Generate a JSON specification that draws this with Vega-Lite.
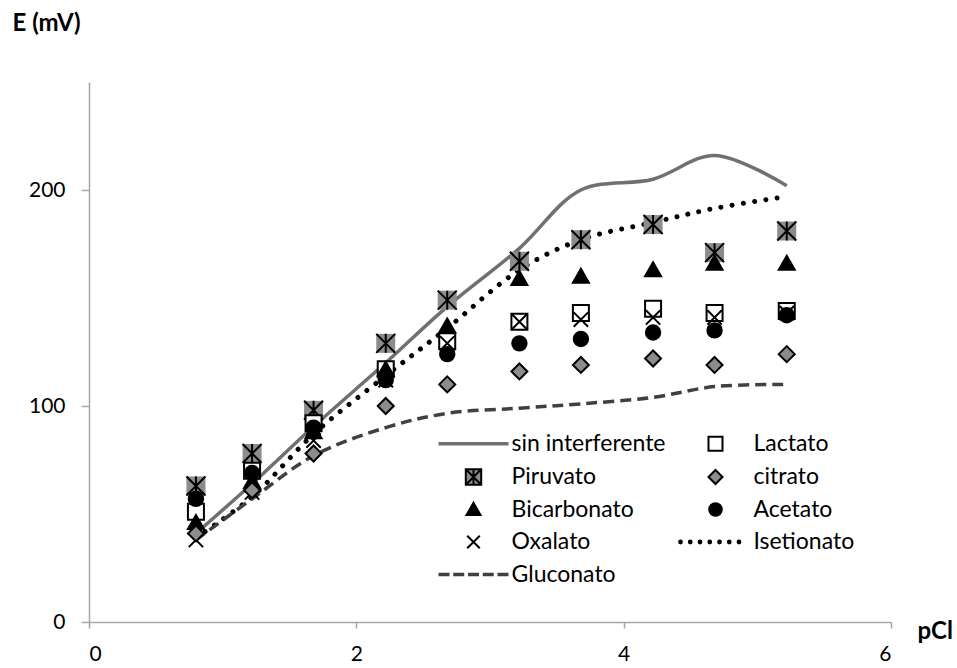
{
  "$schema": "https://vega.github.io/schema/vega-lite/v6.json",
  "width": 802,
  "height": 540,
  "autosize": {"type": "none"},
  "padding": {"left": 89, "top": 82, "right": 66, "bottom": 46},
  "background": "white",
  "config": {
    "view": {"stroke": null},
    "font": "Lato",
    "axis": {"grid": false, "domainColor": "#a6a6a6", "domainWidth": 1.5, "tickColor": "#a6a6a6", "tickWidth": 1.5, "labelFont": "Lato", "labelFontSize": 21, "labelColor": "black", "titleFont": "Lato", "titleFontSize": 24, "titleFontWeight": "bold", "titleColor": "black"},
    "legend": {
      "orient": "none", "legendX": 373, "legendY": 350, "columns": 2, "direction": "horizontal",
      "padding": 0, "labelFont": "Lato", "labelFontSize": 23, "labelColor": "black",
      "symbolSize": 196, "labelOffset": 26.5, "rowPadding": 8.5, "columnPadding": 9, "symbolStrokeWidth": 2,
      "symbolOpacity": 1
    }
  },
  "data": {
    "values": [
      {"x": 0.8, "serie": "sin interferente", "y": 41},
      {"x": 1.22, "serie": "sin interferente", "y": 64},
      {"x": 1.68, "serie": "sin interferente", "y": 90.5},
      {"x": 2.22, "serie": "sin interferente", "y": 120},
      {"x": 2.68, "serie": "sin interferente", "y": 146},
      {"x": 3.22, "serie": "sin interferente", "y": 173},
      {"x": 3.68, "serie": "sin interferente", "y": 200},
      {"x": 4.22, "serie": "sin interferente", "y": 205},
      {"x": 4.68, "serie": "sin interferente", "y": 216},
      {"x": 5.22, "serie": "sin interferente", "y": 202},
      {"x": 0.8, "serie": "Isetionato", "y": 39},
      {"x": 1.22, "serie": "Isetionato", "y": 58},
      {"x": 1.68, "serie": "Isetionato", "y": 87},
      {"x": 2.22, "serie": "Isetionato", "y": 114},
      {"x": 2.68, "serie": "Isetionato", "y": 136},
      {"x": 3.22, "serie": "Isetionato", "y": 163},
      {"x": 3.68, "serie": "Isetionato", "y": 177},
      {"x": 4.22, "serie": "Isetionato", "y": 185},
      {"x": 4.68, "serie": "Isetionato", "y": 191.5},
      {"x": 5.22, "serie": "Isetionato", "y": 197},
      {"x": 0.8, "serie": "Gluconato", "y": 38},
      {"x": 1.22, "serie": "Gluconato", "y": 57},
      {"x": 1.68, "serie": "Gluconato", "y": 77},
      {"x": 2.22, "serie": "Gluconato", "y": 90},
      {"x": 2.68, "serie": "Gluconato", "y": 96.6},
      {"x": 3.22, "serie": "Gluconato", "y": 99},
      {"x": 3.68, "serie": "Gluconato", "y": 101},
      {"x": 4.22, "serie": "Gluconato", "y": 104},
      {"x": 4.68, "serie": "Gluconato", "y": 109},
      {"x": 5.22, "serie": "Gluconato", "y": 110},
      {"x": 0.8, "serie": "Piruvato", "y": 63},
      {"x": 1.22, "serie": "Piruvato", "y": 78},
      {"x": 1.68, "serie": "Piruvato", "y": 98},
      {"x": 2.22, "serie": "Piruvato", "y": 129},
      {"x": 2.68, "serie": "Piruvato", "y": 149},
      {"x": 3.22, "serie": "Piruvato", "y": 167},
      {"x": 3.68, "serie": "Piruvato", "y": 177},
      {"x": 4.22, "serie": "Piruvato", "y": 184},
      {"x": 4.68, "serie": "Piruvato", "y": 171},
      {"x": 5.22, "serie": "Piruvato", "y": 181},
      {"x": 0.8, "serie": "Lactato", "y": 51},
      {"x": 1.22, "serie": "Lactato", "y": 70},
      {"x": 1.68, "serie": "Lactato", "y": 92},
      {"x": 2.22, "serie": "Lactato", "y": 117},
      {"x": 2.68, "serie": "Lactato", "y": 130},
      {"x": 3.22, "serie": "Lactato", "y": 139},
      {"x": 3.68, "serie": "Lactato", "y": 143},
      {"x": 4.22, "serie": "Lactato", "y": 145},
      {"x": 4.68, "serie": "Lactato", "y": 143},
      {"x": 5.22, "serie": "Lactato", "y": 144},
      {"x": 0.8, "serie": "Bicarbonato", "y": 46},
      {"x": 1.22, "serie": "Bicarbonato", "y": 65},
      {"x": 1.68, "serie": "Bicarbonato", "y": 88},
      {"x": 2.22, "serie": "Bicarbonato", "y": 117},
      {"x": 2.68, "serie": "Bicarbonato", "y": 137},
      {"x": 3.22, "serie": "Bicarbonato", "y": 159},
      {"x": 3.68, "serie": "Bicarbonato", "y": 160},
      {"x": 4.22, "serie": "Bicarbonato", "y": 163},
      {"x": 4.68, "serie": "Bicarbonato", "y": 166},
      {"x": 5.22, "serie": "Bicarbonato", "y": 166},
      {"x": 0.8, "serie": "Acetato", "y": 57},
      {"x": 1.22, "serie": "Acetato", "y": 69},
      {"x": 1.68, "serie": "Acetato", "y": 90},
      {"x": 2.22, "serie": "Acetato", "y": 112},
      {"x": 2.68, "serie": "Acetato", "y": 124},
      {"x": 3.22, "serie": "Acetato", "y": 129},
      {"x": 3.68, "serie": "Acetato", "y": 131},
      {"x": 4.22, "serie": "Acetato", "y": 134},
      {"x": 4.68, "serie": "Acetato", "y": 135},
      {"x": 5.22, "serie": "Acetato", "y": 142},
      {"x": 0.8, "serie": "Oxalato", "y": 38},
      {"x": 1.22, "serie": "Oxalato", "y": 60},
      {"x": 1.68, "serie": "Oxalato", "y": 84},
      {"x": 2.22, "serie": "Oxalato", "y": 112},
      {"x": 2.68, "serie": "Oxalato", "y": 129},
      {"x": 3.22, "serie": "Oxalato", "y": 139},
      {"x": 3.68, "serie": "Oxalato", "y": 140},
      {"x": 4.22, "serie": "Oxalato", "y": 141},
      {"x": 4.68, "serie": "Oxalato", "y": 141},
      {"x": 5.22, "serie": "Oxalato", "y": 143},
      {"x": 0.8, "serie": "citrato", "y": 41},
      {"x": 1.22, "serie": "citrato", "y": 61},
      {"x": 1.68, "serie": "citrato", "y": 78},
      {"x": 2.22, "serie": "citrato", "y": 100},
      {"x": 2.68, "serie": "citrato", "y": 110},
      {"x": 3.22, "serie": "citrato", "y": 116},
      {"x": 3.68, "serie": "citrato", "y": 119},
      {"x": 4.22, "serie": "citrato", "y": 122},
      {"x": 4.68, "serie": "citrato", "y": 119},
      {"x": 5.22, "serie": "citrato", "y": 124}
    ]
  },
  "encoding": {
    "x": {"field": "x", "type": "quantitative", "scale": {"domain": [0, 6], "nice": false, "zero": false},
      "axis": {"values": [0, 2, 4, 6], "tickSize": 6, "labelPadding": 15, "title": "pCl", "titleX": 828, "titleY": 9, "titleAlign": "left", "titleBaseline": "middle", "titleAnchor": null}},
    "y": {"field": "y", "type": "quantitative", "scale": {"domain": [0, 250], "nice": false},
      "axis": {"values": [0, 100, 200], "tickSize": 8, "labelPadding": 16, "title": "E (mV)", "titleAngle": 0, "titleX": -77, "titleY": -59, "titleAlign": "left", "titleBaseline": "middle", "titleAnchor": null}}
  },
  "layer": [
    {
      "transform": [{"filter": "datum.serie === 'sin interferente'"}],
      "mark": {"type": "line", "color": "#707070", "strokeWidth": 3.5, "interpolate": "catmull-rom"}
    },
    {
      "transform": [{"filter": "datum.serie === 'Isetionato'"}],
      "mark": {"type": "line", "color": "black", "strokeWidth": 5, "strokeDash": [0.01, 11.3], "strokeCap": "round", "interpolate": "catmull-rom"}
    },
    {
      "transform": [{"filter": "datum.serie === 'Gluconato'"}],
      "mark": {"type": "line", "color": "#404040", "strokeWidth": 3.5, "strokeDash": [11, 6], "interpolate": "catmull-rom"}
    },
    {
      "transform": [{"filter": "datum.serie === 'Piruvato'"}],
      "mark": {"type": "point", "shape": "square", "size": 361, "filled": true, "fill": "#8c8c8c", "strokeWidth": 0, "opacity": 1}
    },
    {
      "transform": [{"filter": "datum.serie === 'Piruvato'"}],
      "mark": {"type": "point", "shape": "M-1,-1L1,1M1,-1L-1,1M0,-1V1", "size": 361, "filled": false, "stroke": "black", "strokeWidth": 2, "opacity": 1}
    },
    {
      "transform": [{"filter": "datum.serie !== 'Piruvato' && datum.serie !== 'sin interferente' && datum.serie !== 'Isetionato' && datum.serie !== 'Gluconato'"}],
      "mark": {"type": "point", "size": 256, "strokeWidth": 2, "opacity": 1},
      "encoding": {
        "shape": {"field": "serie", "type": "nominal", "title": null,
          "scale": {
            "domain": ["sin interferente", "Lactato", "Piruvato", "citrato", "Bicarbonato", "Acetato", "Oxalato", "Isetionato", "Gluconato"],
            "range": [
              "M-5,0M5,0M-4.857,-0.1H4.857V0.1H-4.857Z",
              "M-5,0M5,0M-1,-1H1V1H-1Z",
              "M-5,0M5,0M-1.1,-1.1H1.1V1.1H-1.1ZM-1.1,-1.1L1.1,1.1M1.1,-1.1L-1.1,1.1M0,-1.1V1.1",
              "M-5,0M5,0M0,-1L1,0L0,1L-1,0Z",
              "M-5,0M5,0M0,-0.95L1,0.8H-1Z",
              "M-5,0M5,0M-0.9,0A0.9,0.9 0 1,0 0.9,0A0.9,0.9 0 1,0 -0.9,0Z",
              "M-5,0M5,0M-0.9,-0.9L0.9,0.9M0.9,-0.9L-0.9,0.9",
              "M5,0M-5.2,0a0.2,0.2 0 1,0 0.4,0a0.2,0.2 0 1,0 -0.4,0M-3.807,0a0.2,0.2 0 1,0 0.4,0a0.2,0.2 0 1,0 -0.4,0M-2.414,0a0.2,0.2 0 1,0 0.4,0a0.2,0.2 0 1,0 -0.4,0M-1.021,0a0.2,0.2 0 1,0 0.4,0a0.2,0.2 0 1,0 -0.4,0M0.371,0a0.2,0.2 0 1,0 0.4,0a0.2,0.2 0 1,0 -0.4,0M1.764,0a0.2,0.2 0 1,0 0.4,0a0.2,0.2 0 1,0 -0.4,0M3.157,0a0.2,0.2 0 1,0 0.4,0a0.2,0.2 0 1,0 -0.4,0",
              "M-5,0M5,0M-4.857,-0.1H-3.571V0.1H-4.857ZM-2.75,-0.1H-1.464V0.1H-2.75ZM-0.643,-0.1H0.643V0.1H-0.643ZM1.464,-0.1H2.75V0.1H1.464ZM3.571,-0.1H4.857V0.1H3.571Z"
            ]
          }
        },
        "fill": {"field": "serie", "type": "nominal", "title": null,
          "scale": {
            "domain": ["sin interferente", "Lactato", "Piruvato", "citrato", "Bicarbonato", "Acetato", "Oxalato", "Isetionato", "Gluconato"],
            "range": ["#707070", "white", "#8c8c8c", "#8c8c8c", "black", "black", "transparent", "black", "#404040"]
          }
        },
        "stroke": {"field": "serie", "type": "nominal", "title": null,
          "scale": {
            "domain": ["sin interferente", "Lactato", "Piruvato", "citrato", "Bicarbonato", "Acetato", "Oxalato", "Isetionato", "Gluconato"],
            "range": ["#707070", "black", "black", "black", "black", "black", "black", "black", "#404040"]
          }
        }
      }
    }
  ]
}
